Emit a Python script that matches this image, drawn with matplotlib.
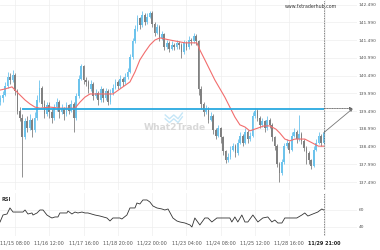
import numpy as np
import matplotlib
matplotlib.use("Agg")
import matplotlib.pyplot as plt

# hourly axis: 0 = 11/15 08:00, one candle every 2 hours
candle_hours = list(range(-12, 253, 2))
closes = [
    139.85, 139.95, 140.20, 140.45, 140.35, 140.50, 140.05, 139.50, 139.30, 138.75,
    139.20, 139.00, 139.25, 138.95, 139.30, 139.80, 140.15, 139.70, 139.40, 139.65,
    139.45, 139.30, 139.60, 139.75, 139.45, 139.55, 139.40, 139.65, 139.50, 139.70,
    139.30, 139.90, 140.40, 140.75, 140.35, 140.30, 140.10, 140.25, 139.90, 140.00,
    139.80, 140.10, 139.85, 140.05, 139.75, 140.00, 140.15, 140.30, 140.20, 140.40,
    140.30, 140.45, 140.60, 141.00, 141.45, 141.80, 142.10, 141.90, 142.20, 142.00,
    142.15, 142.25, 141.95, 141.70, 141.85, 141.55, 141.65, 141.30, 141.40, 141.25,
    141.35, 141.30, 141.40, 141.35, 141.15, 141.40, 141.30, 141.50, 141.45, 141.60,
    141.45, 140.10, 139.70, 139.45, 139.55, 139.25, 139.35, 138.95, 138.80, 139.00,
    138.75, 138.35, 138.10, 138.20, 138.40, 138.50, 138.30, 138.60, 138.80, 138.60,
    138.90, 138.70, 138.80, 139.35, 139.50, 139.30, 139.10, 139.20, 139.00, 139.25,
    139.10, 138.75, 138.50, 138.00, 137.75, 138.05, 138.50, 138.60, 138.40, 138.80,
    138.90, 138.70, 138.85, 138.65, 138.45, 138.30, 138.10, 137.95, 138.40, 138.60,
    138.80, 138.60, 138.88,
]
highs = [
    139.95, 140.05, 140.30, 140.60, 140.55, 140.65, 140.55, 140.10, 139.60, 139.40,
    139.30, 139.35, 139.40, 139.30, 139.45, 139.95, 140.35, 140.20, 139.80, 139.75,
    139.75, 139.55, 139.70, 139.85, 139.80, 139.70, 139.60, 139.75, 139.70, 139.80,
    139.75, 140.00, 140.50, 140.82, 140.80, 140.45, 140.35, 140.35, 140.30, 140.10,
    140.05, 140.20, 140.15, 140.15, 140.10, 140.10, 140.25, 140.40, 140.35, 140.50,
    140.45, 140.55, 140.70, 141.10, 141.55, 141.90, 142.20, 142.15, 142.30, 142.25,
    142.25, 142.32, 142.30, 142.00, 141.95, 141.90, 141.75, 141.70, 141.50, 141.45,
    141.45, 141.40, 141.50, 141.45, 141.40, 141.50, 141.45, 141.60, 141.55, 141.69,
    141.65, 141.50, 140.20, 139.75, 139.65, 139.60, 139.45, 139.40, 139.00, 139.10,
    139.05, 138.80, 138.40, 138.30, 138.50, 138.60, 138.55, 138.70, 138.90, 138.85,
    139.00, 138.95, 138.90, 139.45, 139.57, 139.55, 139.35, 139.30, 139.25, 139.35,
    139.30, 139.15, 138.80, 138.55, 138.05, 138.15, 138.60, 138.70, 138.65, 138.90,
    139.00, 138.95, 139.38, 138.90, 138.70, 138.50, 138.35, 138.15, 138.50, 138.70,
    138.90, 138.85, 138.95,
]
lows = [
    139.65, 139.75, 139.90, 140.15, 140.25, 140.30, 139.95, 139.40, 139.20, 137.63,
    138.70, 138.90, 138.95, 138.76, 138.90, 139.25, 139.75, 139.60, 139.30, 139.35,
    139.30, 139.15, 139.25, 139.50, 139.30, 139.40, 139.25, 139.35, 139.40, 139.45,
    138.90, 139.25, 139.85, 140.35, 140.25, 140.20, 140.00, 140.05, 139.80, 139.85,
    139.65, 139.75, 139.75, 139.80, 139.65, 139.70, 139.95, 140.10, 140.10, 140.15,
    140.20, 140.25, 140.40, 140.55, 140.95, 141.40, 141.75, 141.80, 141.85, 141.90,
    141.95, 142.10, 141.85, 141.60, 141.65, 141.45, 141.50, 141.20, 141.25, 141.15,
    141.20, 141.20, 141.25, 141.25, 140.98, 141.10, 141.20, 141.25, 141.35, 141.40,
    141.35, 139.95, 139.55, 139.35, 139.40, 139.15, 139.20, 138.85, 138.70, 138.75,
    138.60, 138.25, 138.02, 138.05, 138.15, 138.35, 138.20, 138.25, 138.55, 138.50,
    138.55, 138.60, 138.65, 138.75, 139.30, 139.20, 139.00, 139.05, 138.90, 138.95,
    139.00, 138.65, 138.40, 137.90, 137.48, 137.70, 138.00, 138.45, 138.30, 138.35,
    138.75, 138.60, 138.65, 138.55, 138.35, 138.00, 138.00, 137.85, 137.90, 138.35,
    138.55, 138.50, 138.55,
]
first_open = 139.75

ma_hours = [-12.2, -8.2, -2.4, 0, 4.1, 8.2, 12.2, 16.3, 20.4, 28.6, 36.7, 49.0, 53.1,
            57.1, 61.2, 65.3, 80.0, 85.7, 93.9, 98.0, 102.0, 106.1, 110.2, 114.3,
            118.4, 126.5, 138.8, 148.6, 151.0, 155.1, 163.3, 171.4, 179.6, 183.7,
            187.8, 191.8, 198.4, 203.3, 208.2, 213.1, 216.3, 220.4, 224.5, 228.6,
            236.7, 242.9, 247.8, 252.2]
ma_values = [140.08, 140.11, 140.17, 140.08, 139.94, 139.80, 139.69, 139.60, 139.57,
             139.60, 139.57, 139.57, 139.74, 139.88, 139.97, 139.97, 139.97, 140.11,
             140.31, 140.59, 140.93, 141.15, 141.35, 141.49, 141.55, 141.49, 141.41,
             141.41, 141.21, 140.93, 140.36, 139.88, 139.32, 139.10, 139.04, 138.93,
             139.01, 139.07, 139.07, 138.98, 138.87, 138.70, 138.65, 138.70, 138.70,
             138.59, 138.50, 138.50]

rsi_hours = [-12.2, -9.8, -6.5, -4.1, -1.6, 1.6, 6.5, 8.2, 10.6, 13.9, 14.7, 18.0, 20.4,
             22.9, 26.1, 28.6, 30.2, 32.7, 35.1, 36.7, 42.4, 43.3, 46.5, 49.0, 51.4,
             54.7, 57.1, 59.6, 65.3, 69.4, 75.1, 77.6, 80.0, 85.7, 87.3, 91.4, 93.9,
             98.0, 99.6, 102.0, 104.5, 107.8, 110.2, 112.7, 115.9, 120.0, 122.4, 125.0,
             129.0, 132.2, 134.7, 138.8, 142.9, 144.5, 146.9, 151.0, 155.1, 157.6,
             160.8, 164.9, 169.0, 173.1, 175.5, 177.1, 179.6, 182.0, 185.3, 187.8,
             190.2, 194.3, 198.4, 202.4, 206.5, 209.8, 212.2, 214.7, 218.0, 220.4,
             224.5, 226.9, 230.2, 234.3, 236.7, 239.2, 243.3, 247.3, 250.6, 252.2]
rsi_values = [45.9, 54.1, 55.3, 62.4, 57.6, 57.6, 57.6, 60.0, 55.3, 56.5, 54.1, 56.5,
              60.0, 60.0, 54.1, 51.8, 50.6, 51.8, 51.8, 56.5, 56.5, 58.8, 55.3, 57.6,
              56.5, 57.6, 56.5, 56.5, 54.1, 52.9, 50.6, 47.1, 50.6, 50.6, 49.4, 54.1,
              62.4, 62.4, 68.2, 67.1, 71.8, 71.8, 69.4, 64.7, 62.4, 61.2, 60.0, 61.2,
              50.6, 47.1, 45.9, 44.7, 42.4, 40.0, 50.6, 42.4, 50.6, 50.6, 45.9, 50.6,
              50.6, 50.6, 50.6, 45.9, 51.8, 45.9, 54.1, 45.9, 45.9, 54.1, 45.9, 50.6,
              51.8, 45.9, 48.2, 44.7, 44.7, 50.6, 50.6, 50.6, 50.6, 54.1, 56.5, 52.9,
              55.3, 57.6, 61.2, 60.0]

tick_hours = [0, 28, 56, 84, 112, 140, 168, 196, 224, 253]
tick_labels = ["11/15 08:00", "11/16 12:00", "11/17 16:00", "11/18 20:00",
               "11/22 00:00", "11/23 04:00", "11/24 08:00", "11/25 12:00",
               "11/28 16:00", "11/29 21:00"]
price_ticks = [137.49, 137.99, 138.49, 138.99, 139.49, 139.99, 140.49,
               140.99, 141.49, 141.99, 142.49]
level = 139.56
level_start = 5.7
now_hour = 252.2
target_hour = 275.9

UP = "#6cc3ec"
DOWN = "#808080"
GRID = "#eeeeee"

fig = plt.figure(figsize=(3.8, 2.5), dpi=100)
ax = fig.add_axes([0, 0.24, 0.939, 0.76])
ax_rsi = fig.add_axes([0, 0.056, 0.939, 0.172], sharex=ax)

opens = np.array([first_open] + closes[:-1])
c = np.array(closes)
x = np.array(candle_hours)
colors = np.where(c >= opens, UP, DOWN)
ax.vlines(x, lows, highs, colors=colors, linewidth=0.6, zorder=2)
ax.bar(x, np.maximum(np.abs(c - opens), 0.02), bottom=np.minimum(c, opens),
       width=1.4, color=colors, linewidth=0, zorder=3)
ax.plot(ma_hours, ma_values, color="#f26d6d", linewidth=0.8, zorder=4)

ax.hlines(level, level_start, now_hour, color="#2aa9e0", linewidth=1.3, zorder=5)
ax.axvline(now_hour, color="#555555", linestyle=(0, (1, 1)), linewidth=0.6, zorder=5)
ax.annotate("", xy=(target_hour, level), xytext=(now_hour, level),
            arrowprops=dict(arrowstyle="-|>", linestyle=(0, (1, 1)), color="#666666",
                            linewidth=0.6, mutation_scale=4, shrinkA=0, shrinkB=0))
ax.annotate("", xy=(target_hour, level), xytext=(now_hour, closes[-1]),
            arrowprops=dict(arrowstyle="-|>", color="#777777", linewidth=0.6,
                            mutation_scale=4, shrinkA=0, shrinkB=0))

ax.set_xlim(-12.24, 279.2)
ax.set_ylim(137.265, 142.617)
ax.set_yticks(price_ticks)
ax.set_yticklabels([f"{p:.3f}" for p in price_ticks])
ax.yaxis.tick_right()
ax.tick_params(axis="y", length=0, pad=1.2, labelsize=3.2, labelcolor="#555555")
ax.tick_params(axis="x", length=0, labelbottom=False)
ax.set_xticks(tick_hours)
ax.grid(True, color=GRID, linewidth=0.5)
ax.set_axisbelow(True)
for s in ax.spines.values():
    s.set_visible(False)

ax.text(0.87, 0.965, "www.fxtraderhub.com", transform=ax.transAxes, ha="center",
        va="center", fontsize=3.4, color="#333333")
ax.text(0.49, 0.33, "What2Trade", transform=ax.transAxes, ha="center", va="center",
        fontsize=6.6, fontweight="bold", color="#d8d8d8", zorder=1)
ax.plot([0.463, 0.475, 0.487, 0.499, 0.511], [0.375, 0.355, 0.375, 0.355, 0.385],
        transform=ax.transAxes, color="#c5e6f7", linewidth=1.0, zorder=1)
ax.plot([0.463, 0.475, 0.487, 0.499, 0.511], [0.395, 0.375, 0.395, 0.375, 0.405],
        transform=ax.transAxes, color="#c5e6f7", linewidth=1.0, zorder=1)

ax_rsi.plot(rsi_hours, rsi_values, color="#333333", linewidth=0.6)
ax_rsi.axvline(now_hour, color="#555555", linestyle=(0, (1, 1)), linewidth=0.6)
ax_rsi.set_ylim(29.4, 80)
ax_rsi.set_yticks([40, 60])
ax_rsi.yaxis.tick_right()
ax_rsi.tick_params(axis="y", length=0, pad=1.2, labelsize=3.2, labelcolor="#555555")
ax_rsi.set_xticks(tick_hours)
ax_rsi.set_xticklabels(tick_labels)
ax_rsi.tick_params(axis="x", length=0, pad=3.5, labelsize=3.5, labelcolor="#555555")
ax_rsi.get_xticklabels()[-1].set_fontweight("bold")
ax_rsi.get_xticklabels()[-1].set_color("#222222")
ax_rsi.grid(True, color=GRID, linewidth=0.5)
ax_rsi.set_axisbelow(True)
for s in ax_rsi.spines.values():
    s.set_visible(False)
ax_rsi.text(0.003, 0.84, "RSI", transform=ax_rsi.transAxes, ha="left", va="center",
            fontsize=3.6, fontweight="bold", color="#333333")

fig.savefig("out.png", dpi=100)
